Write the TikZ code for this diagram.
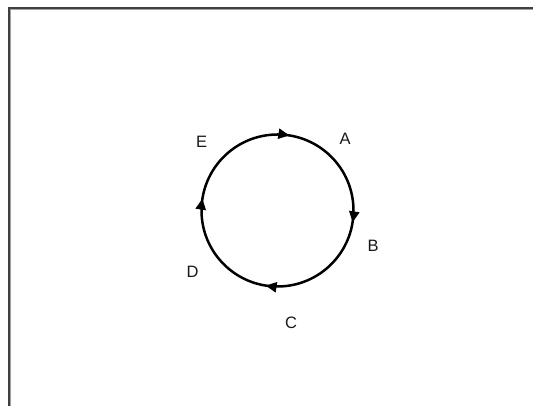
\documentclass[tikz,border=0pt]{standalone}
\usepackage{fontspec}
\setmainfont{Liberation Sans}
\usetikzlibrary{decorations.markings,arrows.meta}
\definecolor{frameD}{HTML}{404040}
\definecolor{frameL}{HTML}{A0A0A0}
\begin{document}
\begin{tikzpicture}[x=1pt,y=1pt,
  lbl/.style={font=\fontsize{16.5}{19}\selectfont, text=black!90, inner sep=0pt},
  cyc/.style={line width=2.5pt, black,
    postaction={decorate, decoration={markings,
      mark=at position 0.025 with {\arrow{Triangle[length=11pt,width=10pt]}},
      mark=at position 0.275 with {\arrow{Triangle[length=11pt,width=10pt]}},
      mark=at position 0.525 with {\arrow{Triangle[length=11pt,width=10pt]}},
      mark=at position 0.775 with {\arrow{Triangle[length=11pt,width=10pt]}}}}}]
\useasboundingbox (0,0) rectangle (538,406);
\fill[white] (0,0) rectangle (538,406);
\draw[frameL, line width=1pt] (10.5,0) -- (10.5,396.5) -- (533,396.5);
\draw[frameD, line width=1.3pt] (9,0) -- (9,398) -- (533,398);
\coordinate (O) at (277.5,195.5);
\draw[cyc] (O) ++(90:76) arc[start angle=90, end angle=-270, radius=76];
\node[lbl] (A) at (345,267) {A};
\node[lbl] (B) at (373,160.5) {B};
\node[lbl] (C) at (291,83.5) {C};
\node[lbl] (D) at (192.5,134) {D};
\node[lbl] (E) at (201.5,264) {E};
\end{tikzpicture}
\end{document}
